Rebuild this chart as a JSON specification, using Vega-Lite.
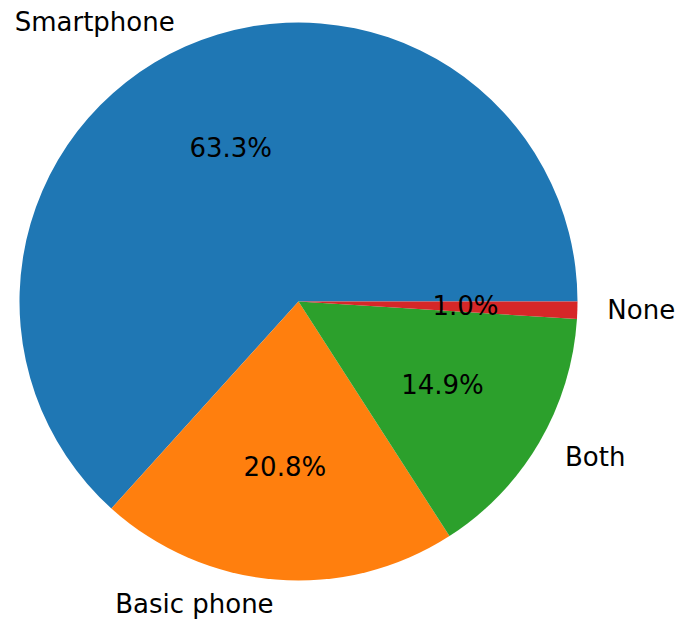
{
  "$schema": "https://vega.github.io/schema/vega-lite/v6.json",
  "width": 597,
  "height": 603,
  "autosize": "none",
  "padding": {"left": 0, "top": 0, "right": 80, "bottom": 17},
  "background": "white",
  "config": {"view": {"stroke": null}, "text": {"font": "DejaVu Sans"}},
  "data": {
    "values": [
      {"category": "Smartphone", "value": 0.633},
      {"category": "Basic phone", "value": 0.208},
      {"category": "Both", "value": 0.149},
      {"category": "None", "value": 0.010}
    ]
  },
  "encoding": {
    "theta": {"field": "value", "type": "quantitative", "stack": true, "scale": {"range": [1.5707963, 7.8539816]}},
    "order": {"field": "value", "sort": "ascending"}
  },
  "layer": [
    {
      "mark": {"type": "arc", "outerRadius": 279},
      "encoding": {
        "color": {"field": "category", "type": "nominal", "legend": null,
          "scale": {"domain": ["Smartphone", "Basic phone", "Both", "None"], "range": ["#1f77b4", "#ff7f0e", "#2ca02c", "#d62728"]}}
      }
    },
    {
      "mark": {"type": "text", "radius": 167, "fontSize": 26, "color": "#000000", "align": "center", "baseline": "middle"},
      "encoding": {"text": {"field": "value", "type": "quantitative", "format": ".1%"}}
    },
    {
      "mark": {"type": "text", "radius": 309, "fontSize": 26, "color": "#000000", "align": "left", "baseline": "middle"},
      "encoding": {"text": {"condition": {"test": "datum.category === 'None' || datum.category === 'Both'", "field": "category"}, "value": ""}}
    },
    {
      "mark": {"type": "text", "radius": 305, "fontSize": 26, "color": "#000000", "align": "right", "baseline": "middle"},
      "encoding": {"text": {"condition": {"test": "datum.category === 'Smartphone' || datum.category === 'Basic phone'", "field": "category"}, "value": ""}}
    }
  ]
}
